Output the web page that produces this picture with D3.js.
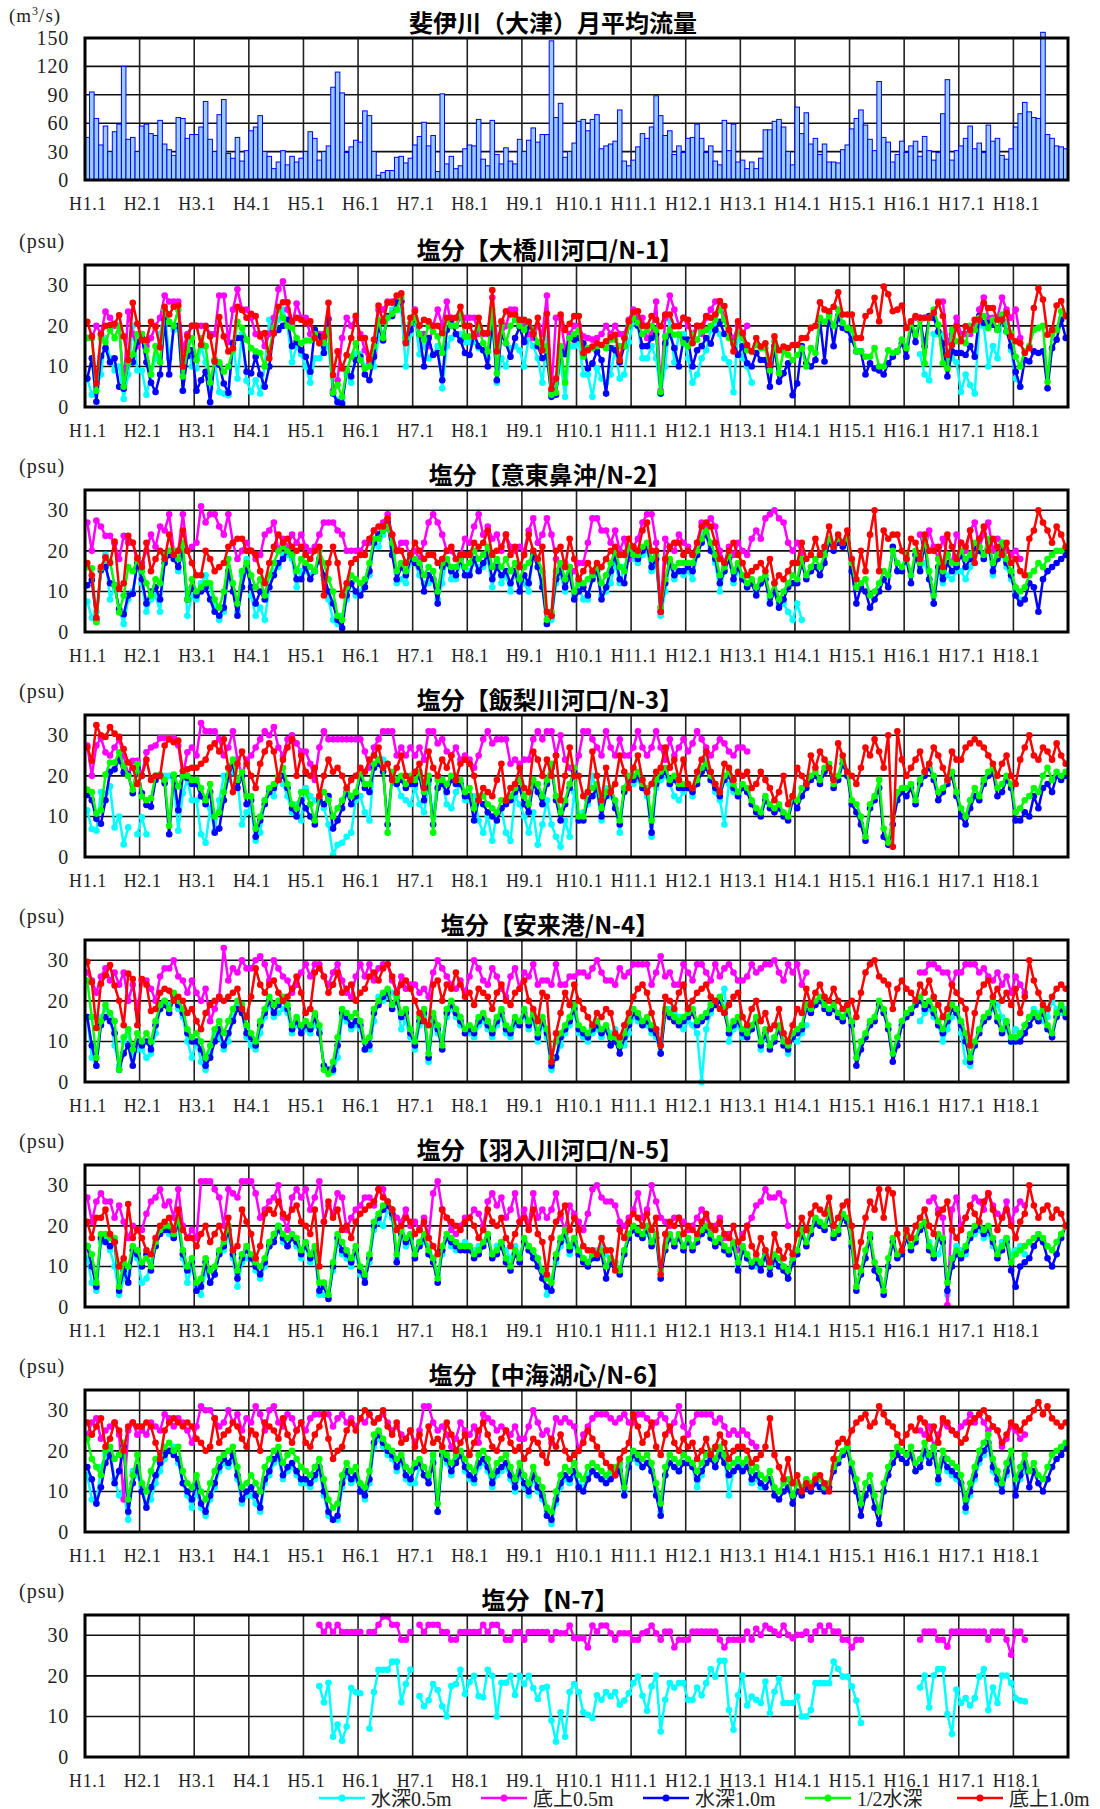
<!DOCTYPE html>
<html>
<head>
<meta charset="utf-8">
<script src="https://cdn.jsdelivr.net/npm/d3@7"></script>
<style>
  body { margin: 0; background: #fff; }
  svg { display: block; }
</style>
</head>
<body>
<svg id="chart" width="1100" height="1809"></svg>
<script>
// ---- data -----------------------------------------------------------------
// Monthly values, January H1 (1989) through December H18 (2006), 12 per row.
const _ = null;

const yearLabels = ["H1.1","H2.1","H3.1","H4.1","H5.1","H6.1","H7.1","H8.1","H9.1",
                    "H10.1","H11.1","H12.1","H13.1","H14.1","H15.1","H16.1","H17.1","H18.1"];
const flowTicks = [0, 30, 60, 90, 120, 150];
const salinityTicks = [0, 10, 20, 30];

const seriesNames  = ["水深0.5m", "底上0.5m", "水深1.0m", "1/2水深", "底上1.0m"];
const seriesColors = ["#00ffff", "#ff00ff", "#0000ff", "#00ff00", "#ff0000"];

// 斐伊川（大津）月平均流量 (m3/s)
const flow = [
  45,93,65,37,57,30,51,59,120,43,45,30,
  57,59,49,47,63,38,32,26,66,65,44,48,
  48,56,83,43,30,69,85,28,23,45,20,31,
  52,56,68,30,25,12,19,31,16,25,19,23,
  30,51,44,21,30,36,98,114,92,29,35,42,
  40,73,68,30,5,8,10,10,24,25,18,23,
  37,46,61,36,47,9,91,17,25,12,15,33,
  37,36,64,22,15,63,27,17,34,20,17,43,
  30,42,55,40,48,48,147,66,81,24,30,39,
  62,64,52,64,69,33,36,38,41,74,20,15,
  21,35,49,44,56,89,68,47,52,27,36,29,
  44,45,59,44,29,36,20,16,63,31,59,19,
  21,12,19,12,23,53,53,62,64,56,30,16,
  77,49,71,38,44,27,38,19,19,18,32,37,
  54,65,74,58,43,31,104,45,40,19,27,41,
  29,36,41,25,46,31,21,29,70,106,21,31,
  36,44,57,33,39,29,58,41,44,26,22,33,
  56,70,82,72,66,65,156,48,44,36,35,33
];

// N-1 大橋川河口
const n1Surface = [
  7,3,5,8,17,12,9,10,2,8,20,9,
  9,3,8,12,18,24,12,19,20,4,18,10,
  9.5,15,11,4.6,11,3.7,3.3,2.9,16,7,18,6.5,
  3.7,6.6,3.3,10,21.5,18,21.5,24,20,11,15,13,
  10,6,12,12,14.5,15,3.7,1.7,1.7,8,6,13,
  13,10,11,10,17,18,22,24,24,24,10,18,
  21.5,13,15,12,13,15,4.6,15,17,18,18,16,
  16,16,14.5,14,12,22,6,12,10,14.5,15,14,
  10,17,15,12,6,17,3,6,11,2.5,15,15,
  16,8,8,2.5,9.5,7,6,8,14.5,7,8,16,
  21,20,12,12,15,12,3.3,10,21.5,11,18,18,
  12,6,8,12,14,19,20,18,12,11,3.7,19,
  12,10,6,_,_,_,_,_,_,_,_,_,
  _,_,_,_,_,_,_,_,_,_,_,_,
  _,_,_,_,_,_,_,_,_,_,_,_,
  _,_,_,13,8,6.6,18,18,18,10,12,11,
  3.7,8,5.4,3.3,20,20,10,15,12,22,21,14,
  7,5,_,_,_,_,_,_,_,_,_,_
];
const n1Bottom05 = [
  17,17,20,18,23.5,22,20,20,5,23.5,18,15,
  18,15,17,20,22,27.5,26,26,26,14,18,20,
  20,20,20,18,18,27.5,27.5,16,24,29,24,24,
  22,18,18,15,18,22,29,31,24,20,25.5,22,
  22,18,18,18,18,18,4,6.6,17,22,20,22,
  18,14,11,13,24,24,26,26,26,26,17,20,
  24,18,18,15,20,24,20,26,20,20,22,22,
  22,22,18,18,18,27,17,18,20,24,24,20,
  20,18,17,20,18,27.5,4,22,22,14,18,20,
  20,17.4,17,16.6,17,18,20,18,20,18,18,21.5,
  24,22,22,17,18,26,4,22,27.5,24,20,22,
  20,18,20,18,22,24,26,26,22,18,17,20,
  18,20,_,_,_,_,_,_,_,_,_,_,
  _,_,_,_,_,_,_,_,_,_,_,_,
  _,_,_,_,_,_,_,_,_,_,_,_,
  _,_,22,22,22,22,22,26,26,16,18,22,
  18,18,18,20,24,27,22,22,22,27,24,22,
  24,17,_,_,_,_,_,_,_,_,_,_
];
const n1Surface10 = [
  7,12,1.3,12.5,14.5,11,12,5,4.5,11,11,16,
  17,11,6,3.7,8,21.5,8,20,20,4,12.5,14,
  4,6.6,8.7,1.2,11.6,10.4,5.8,3.5,15.7,17,17,8.7,
  8.3,12.4,8,5,10,18.6,19,20,21.5,15,16,14,
  12.4,8.7,19,17.4,13.3,21.7,3.3,1.2,0.8,9,7.5,11.6,
  12.4,8,6.6,12.4,20,16.4,22.4,22.4,25.7,26,16,19,
  22,18,10,17,12.8,13.3,6.6,19,21.5,18,16.4,13.3,
  12.8,18,15,14,10,21.5,6.6,17.8,15.7,12.4,17,19.7,
  16,20,18,15,12,12.5,2.5,3,13.7,13,17,16.6,
  17,15.7,9.5,10.8,13.7,11.6,3.3,14.5,14,11,15,20,
  22,20,15,15,17,18,3.3,15.7,18,14.5,10,16.6,
  16.6,10,14,15,17,15.6,19,21,18,17.8,15.7,12.8,
  15,10.8,10,13.3,11.6,11.6,5,15,6.2,8.3,10.8,2.9,
  5.8,15,10.8,10,11.6,21.5,11.2,23,15,22.4,19.5,19,
  16.6,13.7,13.7,8,10.8,9.5,9,8,10.8,12.4,13.7,15.7,
  12.4,20,16,21.5,15,22.4,22,18.6,15.7,7.5,13.7,13.3,
  13.3,12.8,15,12.4,22.4,20.7,20.7,20.3,19,21.5,18.6,15,
  8.7,5,11.6,11.2,13.7,13.3,13.7,4.6,14.5,16.6,21.5,17
];
const n1Half = [
  17,17,4,17,16,19,17,20,5,11,13,18,
  18,14,8,15,11,24,21,20,24,7.5,14,17,
  11.6,17,15,6,11.6,11,8.7,10,14,21,19.5,16.6,
  14.5,13.7,13.3,10,14,19.5,24.4,22,20,19.5,17,15.7,
  16.4,16.4,18,15.7,15.7,19,3.5,5.4,2.5,9,12.4,15.7,
  11.6,9.5,10,15,21.5,17,22,23,24,27,17,20.7,
  22,18,16.6,20,18.6,17.4,13.3,21.5,20,20,23,17.4,
  17.4,17.4,20,15.7,13.7,24,8.3,20,15.7,20,21.5,20,
  19,21,19,16,14,15,3,3.5,15,6,17,18,
  19,12.4,14.5,14.5,15,15.3,14.5,16.6,16.6,15,15,20,
  22,20.7,18,19,20,19,3.7,17.4,19,17.8,17.8,15.7,
  15,17.8,16.6,18.6,19,20,21.5,24,21.5,17,15.7,18.2,
  17,14,13.7,15.3,14.5,14.5,9,16.2,8.3,13.7,12.8,11.6,
  12.8,14.5,10,14.5,13.3,22,21,22.4,20,24,20.7,19.5,
  19,13.7,13.7,12.4,12.4,14.5,10,10,14,13.3,13.7,16.6,
  14.5,21,17.8,21.5,10.8,22,24,20.3,10.8,9.5,19,16.2,
  17,15.7,20,19,22,22.4,19.5,21.5,19,22.8,18.6,18.2,
  12.4,10,13.7,15,19,19.5,20,6.2,18,19,23.6,22.4
];
const n1Bottom10 = [
  21,17.4,5.8,18,20,20.2,20.5,22.6,17.4,11.6,25.7,20.5,
  16.5,16.5,21,19.7,14.7,24.7,22.8,24.7,25,10,17.4,20,
  20,15.3,19.9,17.4,11.2,22.2,17.4,13.7,14.5,24.7,23.9,22,
  23,22.4,17.4,18.2,12,18.2,24.7,25.8,25.8,21.1,22,21.5,
  20.7,21.1,17,15.7,17.4,25.7,7.9,13.7,9.5,12.8,17,22.5,
  17,17,11.8,16.6,25,21.1,25.7,25.7,27.5,28,15.7,22,
  23.6,20,21.5,21.1,20,20,18.2,22,22,22,24.7,20,
  20,17.4,22,18.2,18.2,28.8,13.7,21.1,23.6,22.8,22.8,21.5,
  21.5,21,18,22,14,23,4.5,7,22.8,19,20.5,22.4,
  22.4,13.3,14,14.9,15.7,15.3,16.2,17.2,17.8,11.6,17,21.1,
  23.4,23.6,20,20,22.4,21.5,19.9,22.8,22.8,19.9,19.9,22,
  21.5,15.7,20,20,22.4,22,22.8,26.1,24.9,19,13.7,21.1,
  18.2,15.3,13.7,17,14.9,15.7,10.4,17.4,14,14.9,14.5,15.3,
  15.3,17,17,19.5,20,25.8,24,23.6,24.7,28.3,22.8,22.8,
  22.8,17,17,22.4,23.6,26.9,21.1,29.7,27.8,23.6,24,25,
  19.5,21.1,22.4,22,22,22,23.2,25.7,22.4,12.8,15.3,19.9,
  16.2,19.9,19,21.5,21.5,25.7,24.4,24.4,21.5,21.5,23.2,17.4,
  16.2,15.7,13.3,14.5,24.4,29.2,26.5,17.8,19,25,26.1,22.4
];

// N-2 意東鼻沖
const n2Surface = [
  7.5,3.5,5,15,19,8,11.5,5.5,2,8,10,16.6,
  12,5,8,9,5,18,20,19,15,21,4,9,
  8,12,14,11,6,3,5,14,12,5,14,18,
  9,4,6,3,11,15,16,19,19,18,11,15,
  15,14,15,18,13,8,3,2,4,8,12,9,
  10,12,14,22,21,24,26,21,12,13,12,17,
  17,14,12,12,13,8,12,18,13,13,17,14,
  15,17,16,16,18,11,17,12,14,10,15,12,
  12,10,20,16,12,2,3,12,14,10,15,9,
  11,8,8,14,15,9,10,12,17,12,16,19,
  18,17,19,20,15,17,4,10,17,13,15,14,
  15,13,19,24,26,21,17,10,15,19,12,15,
  14,11,12,10,12,13,8,12,7,7,5,3,
  7,3,_,_,_,_,_,_,_,_,_,_,
  _,_,_,_,_,_,_,_,_,_,_,_,
  _,_,_,16,17,13,7,15,12,14,13,15,
  15,13,16,19,21,18,21,14,18,19,16,13,
  10,8,_,_,_,_,_,_,_,_,_,_
];
const n2Bottom05 = [
  27,20,27.5,26,23.7,23.7,21.8,18,23.7,22,22,17,
  17,20,24,21,26,25,29,20,20,29,20,21,
  22,31,27,29,29,26,24,29,22,18,20,22,
  20,18,19,24,25,27,20,23,21,24,22,24,
  21,20,21,24,27,27,27,25,24,20,20,20,
  20,22,22,25,24,27,29,24,20,22,22,18,
  20,18,22,27,29,27,24,20,20,18,19,23,
  22,26,29,24,26,23,24,20,24,21,20,21,
  20,25,28,22,24,28,24,18,16,17,16,15,
  17,17,22,28,28,25,25,22,25,20,23,18,
  21,23,27,29,29,22,6,23,21,20,24,22,
  21,19,22,27,26,28,26,20,17,21,19,22,
  20,19,23,25,23,28,29,30,28,27,22,20,
  22,19.5,_,_,_,_,_,_,_,_,_,_,
  _,_,_,_,_,_,_,_,_,_,_,_,
  _,_,_,24,20,25,21,18,23,19,17,24,
  22,20,25,27,21,24,27,20,23,22,20,19,
  20,18,_,_,_,_,_,_,_,_,_,_
];
const n2Surface10 = [
  11.5,12.8,3,15.3,16,12,11.5,5.6,4.4,9,9.4,17,
  13,7,10,11,8,17,19,18,16,20,8,11,
  9,10,11,8,5,4,6,15,10,4,11,16,
  11,7,10,8,11,14,17,18,20,19,13,13,
  16,13,15,18,14,10,7,3,1,9,12,10,
  9,11,15,22,24,25,27,19,13,16,14,18,
  17,16,10,14,13,7,16,17,15,14,18,14,
  14,18,15,17,19,13,16,14,15,12,15,10,
  14,12,19,16,11,2,4,13,15,11,14,8,
  10,11,9,13,15,8,11,15,19,13,12,19,
  19,18,20,21,16,18,5,12,17,14,15,15,
  16,15,19,22,24,20,18,12,15,18,13,16,
  13,11,12,9,12,13,7,10,6,8,11,12,
  12,17,13,15,16,14,17,22,20,22,21,22,
  15,7,11,10,6,8,10,13,11,21,15,15,
  18,12,19,15,22,13,7,16,13,17,15,16,
  19,16,18,21,20,18,22,15,18,21,17,14,
  9,7,8,12,11,5,13,15,16,17,18,19
];
const n2Half = [
  16,15.7,2.4,15.7,18.2,17.4,11.5,4.8,9,16,15,17.8,
  15,12,9,13,12,19,20,20,18,22,8,13,
  10,11,12,12,8,6,10,18,12,7,15,17,
  14,11,13,9,14,17,20,21,20,19,15,18,
  17,16,15,20,17,13,10,4,3,11,14,13,
  12,13,17,23,23,25,26,22,15,17,15,19,
  18,17,14,16,15,10,17,18,16,16,18,16,
  17,20,18,19,21,16,18,16,18,15,17,13,
  16,17,20,18,15,3,5,15,17,13,16,10,
  12,12,13,14,16,12,14,17,20,16,15,21,
  19,19,21,22,18,19,6,13,18,16,17,17,
  17,17,20,23,25,22,19,14,16,19,15,17,
  14,12,13,11,13,14,9,12,8,10,12,14,
  13,18,14,16,18,16,19,23,21,23,22,23,
  17,11,12,13,9,10,12,15,14,20,17,16,
  19,14,20,17,23,15,9,18,15,19,17,17,
  20,18,19,22,21,19,23,17,19,22,18,15,
  11,10,11,14,15,17,16,18,19,20,20,21
];
const n2Bottom10 = [
  17,14,3.5,16,18.4,17,22.3,10.7,12,23.7,22,18.2,
  16,22,15,18,20,18,24,19,20,25,20,17,
  14,14,20,18,15,16,17,21,22,23,23,20,
  20,19,15,12,17,21,24,22,23,21,20,21,
  19,18,20,21,9,17,21,17,9,12,17,18,
  19,19,23,25,26,26,28,24,20,20,17,19,
  22,20,18,19,19,17,18,20,21,18,19,19,
  19,22,21,22,25,19,20,21,24,19,21,16,
  19,24,20,18,21,5,4,20,21,16,23,18,
  13,15,17,15,17,16,18,20,21,19,19,23,
  21,20,25,27,20,20,5,18,21,22,22,19,
  20,19,22,26,27,26,22,18,17,20,22,19,
  17,14,15,16,17,15,18,12,14,13,15,17,
  17,22,18,19,23,19,21,26,21,24,22,25,
  18,13,20,15,24,30,15,25,23,24,24,20,
  18,23,22,18,24,20,20,21,16,24,21,18,
  22,21,25,17,23,26,20,23,21,19,22,17,
  18,15,14,23,25,30,27,25,22,26,24,21
];

// N-3 飯梨川河口
const n3Surface = [
  11.5,6.9,6.5,16,15.7,17.4,7.3,10,3.1,7.3,_,5.6,
  9.8,5.6,_,_,20,20,20,18.7,6.5,15.7,19.1,14,
  14,5.6,3.5,12,6.5,14,20,19,21,19,8,11,
  12,4,6,14,16,15,19,18,15,11,13,9,
  17,15,14,14,12,8,0.5,3,3.5,5,6,14,
  15,11,9,22,24,24,23,20,18,15,14,13,
  17,13,11,18,10,20,19,13,12,16,18,14,
  14,15,9,6,10,4,11,12,6,4,15,13,
  10,6,11,3,8,14,8,5,2.5,9,5,16,
  9,11,13,20,16,9,17,15,13,6,17,19,
  18,19,17,15,5,17,19,20,18,15,14,16,
  17,15,19,21,25,19,16,14,8,18,16,15,
  _,_,_,_,_,_,_,_,_,_,_,_,
  _,_,_,_,_,_,_,_,_,_,_,_,
  _,_,_,_,_,_,_,_,_,_,_,_,
  _,_,_,_,_,_,_,_,_,_,_,_,
  _,_,_,_,_,_,_,_,_,_,_,_,
  _,_,_,_,_,_,_,_,_,_,_,_
];
const n3Bottom05 = [
  27.5,20,27.5,29.3,25.8,25,27,29,25,20,23.7,23.7,
  20,25.8,27,27.5,29.3,29.3,29.3,29.3,27.5,20,25.8,27,
  25,33,31,31,31,29,25,27,31,24,20,24,
  25,27,29,31,30,32,27,25,29,30,28,26,
  26,23,19,27,31,29,29,29,29,29,29,29,
  29,26,22,27,29,31,31,31,25,27,25,27,
  25,27,24,31,31,28,29,26,25,27,24,25,
  24,22,25,29,31,28,29,29,29,23,24,23,
  24,24,29,31,29,31,31,25,30,24,22,20,
  25,31,31,29,27,25,31,27,25,29,25,25,
  27,31,27,25,27,31,27,24,29,25,27,29,
  26,28,31,29,27,25,27,29,28,26,25,27,
  27,26,_,_,_,_,_,_,_,_,_,_,
  _,_,_,_,_,_,_,_,_,_,_,_,
  _,_,_,_,_,_,_,_,_,_,_,_,
  _,_,_,_,_,_,_,_,_,_,_,_,
  _,_,_,_,_,_,_,_,_,_,_,_,
  _,_,_,_,_,_,_,_,_,_,_,_
];
const n3Surface10 = [
  15.3,14,9.4,8.2,14,21,21.6,24,20.8,20.3,15.7,22,
  15.7,12.8,12.4,19,20,18.2,5.6,20,11.5,20,19.5,18,
  18,15,13,16,6,7,14,20,23,17,20,13,
  14,5,9,13,16,17,19,20,17,12,10,14,
  12,10,8,14,13,15,7,9,12,16,13,15,
  20,17,16,22,23,21,8,20,18,19,17,18,
  18,20,14,19,8,17,18,16,19,18,18,15,
  15,9,14,13,11,10,9,12,13,14,16,17,
  13,11,18,16,13,18,22,14,9,13,17,21,
  9,9,14,15,17,10,15,16,12,8,16,19,
  19,20,17,16,6,18,20,21,18,19,17,17,
  17,16,18,21,22,19,17,15,19,20,17,15,
  17,16,13,11,10,14,12,11,12,10,9,14,
  12,15,17,19,20,18,21,22,17,19,23,20,
  13,11,8,4,12,14,17,5,3,8,14,16,
  15,17,13,18,20,22,19,14,16,18,20,15,
  10,8,12,15,14,18,20,21,15,16,19,17,
  9,9,11,10,15,12,17,18,16,20,19,20
];
const n3Half = [
  16.6,16,10.7,11.5,20.3,23.3,23.3,25.8,22.4,20,16.6,22.9,
  14.9,14,14.5,20,20.3,19,7.7,20.3,17.4,20,20,19,
  19,17,14,18,10,11,16,22,24,19,21,15,
  15,7,10,14,17,18,20,22,18,13,12,16,
  16,13,9,15,16,14,10,12,14,17,15,16,
  21,18,18,23,24,22,6,21,19,20,18,20,
  19,21,16,20,6,19,19,18,20,19,19,16,
  17,12,15,15,13,12,11,14,14,15,17,19,
  15,13,19,18,15,19,23,15,11,14,18,22,
  10,10,16,17,18,12,16,17,14,9,17,20,
  20,21,18,17,9,19,21,22,19,20,18,18,
  18,17,19,22,23,20,18,16,20,21,18,16,
  18,17,14,12,11,15,13,12,13,11,10,15,
  14,17,18,20,21,19,22,23,18,20,24,21,
  14,13,10,5,13,15,19,7,3.5,10,16,17,
  17,18,14,19,21,23,20,16,17,19,21,16,
  12,10,14,17,15,19,21,22,17,18,20,18,
  11,12,14,15,17,16,20,22,19,21,20,21
];
const n3Bottom10 = [
  27,23.7,32.5,30,29.6,32,30.4,29.6,26.6,23.3,22,18,
  20,24,19,20,20,27.5,29,28.3,28.7,21.2,21.6,22,
  22,23,24,27,28,26,29,22,16,23,26,23,
  20,17,23,26,28,26,19,24,27,29,20,25,
  21,20,22,15,20,24,21,22,20,17,19,20,
  22,21,24,25,27,22,23,19,22,25,20,19,
  21,23,17,26,22,20,24,22,25,19,23,24,
  23,20,14,17,16,15,19,23,14,17,18,22,
  17,16,26,24,20,24,20,25,14,20,27,20,
  20,15,16,26,20,14,22,16,18,25,21,17,
  22,25,19,16,18,21,22,27,22,24,19,24,
  18,17,21,24,26,21,18,16,23,22,19,21,
  20,21,17,18,21,19,17,14,16,20,13,15,
  22,20,18,25,22,26,24,22,19,28,25,21,
  20,18,22,27,25,29,26,22,30,2.5,31,24,
  20,22,24,26,21,23,27,25,22,19,26,24,
  24,27,28,29,28,27,25,23,20,23,25,20,
  18,24,27,30,25,24,27,26,24,28,25,23
];

// N-4 安来港
const n4Surface = [
  16,6,4,16,18,17,9,4,10,12,6,8,
  8,6,7,12,18,20,19,21,18,16,10,6,
  10,5,3,7,12,11,8,10,16,19,17,11,
  9,8,12,16,19,16,17,18,17,12,14,13,
  13,12,14,13,4,3,2.5,6,16,15,13,14,
  13,8,8,15,21,20,21,22,20,13,15,11,
  8,14,16,5,15,12,11,16,18,16,14,13,
  12,11,14,15,13,11,14,16,12,11,14,15,
  16,13,15,10,14,11,3,6,9,12,14,17,
  12,11,10,12,13,11,13,12,13,10,9,12,
  16,15,14,14,12,11,7,17,18,17,16,13,
  15,14,12,0,13,17,19,20,23,10,13,14,
  11,13,14,15,8,11,9,11,13,10,7,11,
  10,12,14,_,_,_,_,_,_,_,_,_,
  _,_,_,_,_,_,_,_,_,_,_,_,
  _,_,_,15,17,18,16,14,10,13,16,17,
  12,5,4,9,13,15,16,18,19,16,13,10,
  13,11,14,16,18,17,15,16,20,18,17,18
];
const n4Bottom05 = [
  27,25,22,26,28,25,27,24,27,20,24,18,
  25,25,23,20,26,28,28,30,26,25,22,25,
  22,20,23,15,18,21,33,25,28,27,30,28,
  28,30,31,29,25,30,28,26,25,22,24,27,
  29,26,29,29,26,24,27,29,25,22,21,26,
  29,26,29,25,28,29,29,25,22,26,23,24,
  24,22,23,21,27,30,28,26,24,23,25,22,
  26,30,28,25,24,28,26,23,21,26,28,23,
  27,26,29,24,25,25,24,29,24,24,26,26,
  27,27,26,28,30,27,25,25,24,28,26,27,
  29,29,29,29,24,27,31,26,27,24,24,29,
  27,25,29,29,27,25,29,26,28,29,27,25,
  25,26,29,27,28,29,29,30,27,25,29,27,
  29,24,27,_,_,_,_,_,_,_,_,_,
  _,_,_,_,_,_,_,_,_,_,_,_,
  _,_,_,27,27,29,29,28,27,27,24,27,
  27,29,29,29,27,28,26,25,27,24,26,22,
  26,24,22,_,_,_,_,_,_,_,_,_
];
const n4Surface10 = [
  16,9,4,14,16,15,12,3,7,9,4,10,
  9,10,8,14,18,19,17,21,19,17,12,10,
  10,8,4,6,10,13,9,12,15,18,17,12,
  11,9,14,17,20,17,19,20,18,13,15,12,
  14,13,16,12,4,3,3,9,17,16,14,15,
  14,8,9,17,19,21,22,18,20,16,17,12,
  9,15,17,6,16,13,8,17,19,17,15,12,
  13,12,15,16,14,12,15,17,13,12,15,14,
  17,14,16,11,15,12,4,6,11,13,15,18,
  13,12,11,13,14,12,13,9,10,7,11,14,
  17,16,14,15,13,12,7,17,16,15,14,15,
  16,17,14,15,16,18,19,20,17,12,14,15,
  12,11,13,15,9,12,8,10,13,9,8,11,
  12,13,18,17,19,20,18,17,18,16,15,17,
  14,4,8,11,14,15,19,17,13,5,9,14,
  16,17,19,20,18,19,17,14,12,15,18,17,
  14,10,5,9,12,15,16,19,15,12,14,10,
  10,10,12,14,16,15,17,13,11,16,18,16
];
const n4Half = [
  25,16,6,15,19,17,15,3,11,13,8,12,
  10,12,10,15,19,20,18,22,20,18,13,11,
  12,10,6,9,13,15,12,15,18,20,19,14,
  12,10,15,18,21,19,20,21,19,14,16,14,
  15,14,17,14,3,2,5,11,18,17,16,17,
  15,10,11,18,20,22,23,19,21,17,18,13,
  10,16,18,7,17,14,9,18,20,18,16,13,
  14,13,16,17,15,13,16,18,14,13,16,15,
  18,15,17,12,16,13,6,10,12,14,16,19,
  14,13,12,14,15,13,14,11,11,9,12,15,
  18,17,15,16,14,13,9,18,17,16,15,16,
  17,18,15,16,17,19,20,21,18,13,15,16,
  13,12,14,16,10,13,9,11,14,10,9,12,
  13,14,19,18,20,21,19,18,19,17,16,18,
  15,6,10,12,15,16,20,18,14,7,11,15,
  17,18,20,21,19,20,18,15,13,16,19,18,
  15,12,6,10,13,16,17,20,16,13,15,11,
  11,12,14,16,17,16,18,14,12,17,19,17
];
const n4Bottom10 = [
  29.6,24.6,13.3,24.2,26.3,28.8,23.8,20,14,26.7,25.4,14,
  25.4,24,17.5,18,22,23,22.5,20,21,20,17,18,
  15,13,17,19,20,21,20,21,22,23,18,16,
  21,28,24,22,24,25,22,20,21,23,26,22,
  17,18,27,28,26,22,24,27,22,23,24,20,
  22,23,26,27,25,28,29,26,22,24,25,23,
  20,17,15,14,24,25,20,24,23,27,24,21,
  22,19,23,22,21,18,22,24,20,19,22,23,
  25,20,18,15,22,21,5,12,17,22,19,24,
  20,18,16,14,17,16,18,17,12,11,14,17,
  21,23,24,22,17,13,9,21,20,18,22,24,
  18,20,22,23,24,21,20,18,17,19,21,22,
  16,14,18,20,15,17,13,14,18,12,10,14,
  18,17,23,19,22,24,21,20,23,20,18,19,
  20,16,22,27,29,30,26,25,24,18,23,25,
  23,22,20,24,22,25,21,19,16,18,24,22,
  20,18,9,17,22,24,25,21,23,20,22,19,
  23,17,21,30,25,22,19,18,21,23,24,23
];

// N-5 羽入川河口
const n5Surface = [
  12,6,4,16,17,14,10,3,7,8,13,12,
  6,7,11,15,18,19,18,17,20,12,6,10,
  5,3,9,6,8,13,14,18,12,5,11,12,
  12,9,7,10,15,17,20,16,15,17,15,12,
  15,11,13,3,3,3,9,16,13,12,10,13,
  8,7,11,19,21,20,24,22,12,18,15,16,
  14,16,16,15,12,8,13,17,15,14,15,16,
  15,14,15,16,17,13,15,16,14,12,15,13,
  16,15,13,11,9,3,7,11,15,17,13,15,
  14,12,11,13,14,15,13,12,11,9,14,18,
  19,18,17,18,16,17,10,15,17,16,17,15,
  17,15,17,18,19,17,16,17,14,13,16,10,
  14,12,10,10,11,12,9,11,12,10,7,_,
  _,_,_,_,_,_,_,_,_,_,_,_,
  _,_,_,_,_,_,_,_,_,_,_,_,
  _,_,_,_,_,16,14,13,16,3,12,15,
  14,13,17,18,19,17,18,15,14,16,17,13,
  14,15,13,_,_,_,_,_,_,_,_,_
];
const n5Bottom05 = [
  27,21,26,28,26,26,22,25,21,17,20,19,
  19,23,26,27,29,25,26,22,29,20,17,19,
  17,31,31,31,29,27,20,29,28,27,31,31,
  31,28,22,24,26,27,30,22,19,27,29,27,
  29,24,27,31,21,25,23,28,27,19,22,24,
  25,27,27,25,29,29,25,24,22,21,24,20,
  21,19,22,17,28,31,24,22,19,18,20,22,
  22,24,23,20,26,28,25,27,22,24,28,21,
  24,20,28,22,24,22,24,28,22,19,25,23,
  21,19,23,29,30,27,26,26,25,21,20,22,
  24,28,22,24,30,26,22,21,20,22,22,21,
  19,20,22,24,22,19,20,22,17,18,16,14,
  18,20,22,25,26,29,27,27,28,26,20,_,
  _,_,_,_,_,_,_,_,_,_,_,_,
  _,_,_,_,_,_,_,_,_,_,_,_,
  _,_,_,_,_,26,27,24,22,0.5,24,27,
  20,22,25,27,26,24,28,25,23,22,26,21,
  24,26,25,_,_,_,_,_,_,_,_,_
];
const n5Surface10 = [
  15,10,5,17,16,15,16,4,9,6,14,13,
  10,13,9,15,18,19,19,17,21,13,9,11,
  4,5,11,6,8,13,15,19,13,7,12,14,
  12,10,8,11,15,16,19,17,15,17,16,13,
  15,12,14,4,5,2,10,17,14,13,11,14,
  9,6,12,20,22,24,25,23,11,18,16,17,
  12,15,17,13,11,6,14,17,16,15,14,14,
  14,12,13,15,17,12,13,15,11,9,13,11,
  16,14,12,10,7,5,4,12,16,18,14,16,
  13,11,10,12,12,13,7,11,10,8,13,17,
  19,18,17,19,15,17,7,14,17,15,17,14,
  16,14,16,18,19,17,15,16,14,13,15,9,
  14,12,10,11,9,13,8,12,10,9,7,11,
  13,18,15,18,21,20,19,23,17,18,22,21,
  15,4,8,12,17,9,7,3,10,16,12,13,
  17,14,16,19,20,14,12,17,16,4,10,13,
  12,14,17,19,20,18,19,16,12,14,16,9,
  5,10,11,12,15,17,16,12,10,13,17,20
];
const n5Half = [
  15,13,6,18,18,17,17,5,11,10,15,14,
  11,12,10,16,19,20,20,18,22,14,10,12,
  6,7,12,9,10,14,16,20,14,9,13,15,
  13,11,10,12,16,18,20,18,17,18,17,14,
  16,13,15,6,6,3,11,18,16,14,12,15,
  10,8,13,21,23,25,26,24,13,19,17,18,
  13,16,18,14,12,7,15,18,17,16,15,15,
  15,13,14,16,18,13,14,16,12,10,14,12,
  17,15,14,12,9,7,6,13,17,19,15,17,
  14,12,11,13,13,14,10,12,11,9,14,18,
  20,19,18,20,16,18,9,15,18,16,18,15,
  17,15,17,19,20,18,16,17,15,14,16,11,
  15,13,11,12,11,14,10,13,12,10,9,12,
  14,19,16,19,22,21,20,24,18,19,23,22,
  16,5,9,14,18,11,9,4,12,17,13,14,
  18,15,17,20,21,15,13,18,17,6,12,14,
  13,15,18,20,21,19,20,17,13,15,17,11,
  13,14,15,16,17,18,17,15,14,16,18,20
];
const n5Bottom10 = [
  21,17,22,22,24,18,16,10,12,25.4,17,19,
  17,14,13,17,20,21,22,19,24,19,17,17,
  15,18,20,16,18,20,17,22,14,15,24,21,
  18,12,15,23,24,23,26,23,22,24,25,21,
  20,18,24,10,21,26,22,24,19,20,17,21,
  23,24,25,26,29,27,26,24,19,20,22,21,
  18,19,21,17,15,13,24,22,21,20,19,21,
  22,20,17,19,24,21,20,22,17,15,18,21,
  22,19,24,18,16,8,17,21,23,25,19,22,
  19,15,14,14,13,17,14,14,9,19,17,21,
  23,22,20,23,19,22,8,18,21,20,22,18,
  20,19,18,21,23,20,19,21,18,17,20,16,
  17,20,15,13,17,14,11,18,14,12,15,13,
  18,22,19,23,25,24,23,27,20,22,25,26,
  20,10,16,22,26,24,29,22,29,28,18,14,
  19,17,20,22,24,20,18,23,24,26,19,17,
  19,22,25,23,21,26,28,24,19,22,24,20,
  17,21,23,30,25,22,24,25,22,24,23,20
];

// N-6 中海湖心
const n6Surface = [
  14,8,7,16,19,20,13,9,10,3,15,14,
  11,7,8,12,15,18,20,21,17,12,9,6,
  10,6,4,8,11,15,17,16,18,13,7,9,
  9,7,5,12,14,17,18,13,15,16,14,12,
  12,11,13,15,9,4,3,3,11,14,12,13,
  11,8,12,21,23,21,19,18,15,17,13,12,
  12,16,14,13,18,5,19,17,14,18,19,15,
  13,12,16,17,15,11,14,15,16,13,10,14,
  11,9,13,10,8,5,2,7,11,13,12,14,
  12,11,14,15,14,13,13,14,15,16,10,17,
  18,17,16,17,15,10,5,14,17,16,15,17,
  17,16,11,14,17,19,16,20,18,9,15,17,
  16,17,12,13,11,_,_,_,_,_,_,_,
  _,_,_,_,_,_,_,_,_,_,_,_,
  _,_,_,_,_,_,_,_,_,_,_,_,
  _,_,_,16,19,17,20,12,18,15,14,13,
  12,5,9,13,17,19,21,15,12,11,14,17,
  11,13,15,_,_,_,_,_,_,_,_,_
];
const n6Bottom05 = [
  24,27,28,23,25,26,27,24,8,25,27,24,
  25,24,27,26,25,29,28,26,28,27,25,22,
  26,31,30,30,28,26,27,30,27,29,25,28,
  27,31,29,25,30,31,27,26,29,28,25,27,
  25,28,29,29,29,29,26,28,29,27,28,26,
  28,27,29,27,28,29,27,25,26,24,23,25,
  22,25,31,31,27,25,26,24,21,23,27,25,
  24,26,22,29,28,27,25,26,25,24,26,23,
  23,26,30,27,24,25,22,28,27,28,27,26,
  20,24,26,28,29,29,29,28,27,28,29,27,
  27,29,29,28,26,27,29,28,25,27,31,26,
  24,27,29,29,29,29,27,28,26,24,25,24,
  25,24,22,21,_,_,_,_,_,_,_,_,
  _,_,_,_,_,_,_,_,_,_,_,_,
  _,_,_,_,_,_,_,_,_,_,_,_,
  _,_,_,25,24,26,21,24,27,26,25,24,
  26,27,29,27,29,27,25,26,25,21,23,26,
  25,23,24,_,_,_,_,_,_,_,_,_
];
const n6Surface10 = [
  16,13,7,11,17,19,12,15,21,5,12,16,
  10,6,11,14,17,19,20,19,18,12,10,8,
  12,7,5,9,12,16,18,17,19,14,8,10,
  11,9,6,13,15,18,19,14,16,17,15,13,
  13,12,14,16,10,5,3,4,12,15,13,14,
  10,9,13,22,24,22,20,19,16,18,14,13,
  16,17,14,12,17,5,19,18,15,17,19,16,
  14,13,17,18,16,12,15,16,17,14,11,15,
  12,10,14,11,9,4,3,8,12,14,13,15,
  11,10,13,15,14,13,12,13,14,15,9,16,
  19,18,16,17,15,9,4,14,17,16,15,17,
  17,16,13,15,17,18,16,19,17,14,15,16,
  15,16,13,14,12,11,13,9,8,10,11,7,
  10,9,11,10,12,11,10,11,15,17,19,20,
  15,10,4,9,11,6,2,10,14,17,19,18,
  17,19,15,16,20,17,19,13,18,16,15,14,
  12,6,10,14,18,20,22,16,13,10,15,18,
  9,14,17,11,15,12,10,13,16,18,19,21
];
const n6Half = [
  23,18,16,14,20,21,18,19,22,8,14,19,
  12,10,15,18,19,21,22,20,21,15,12,11,
  14,10,8,12,15,18,19,20,21,16,11,12,
  14,12,10,16,18,20,21,17,19,20,18,16,
  15,14,16,18,13,8,6,7,14,17,15,16,
  12,11,15,24,25,23,21,20,18,19,16,15,
  17,18,16,14,19,7,20,19,17,19,20,18,
  16,15,19,20,18,14,17,18,19,16,13,17,
  14,12,16,13,11,6,5,10,14,16,15,17,
  14,13,16,17,16,15,14,15,16,17,11,18,
  20,19,18,19,17,12,7,16,19,18,17,19,
  18,17,15,17,19,20,18,21,19,16,17,18,
  17,18,15,16,14,13,15,11,10,12,13,9,
  12,11,13,12,14,13,11,12,16,18,20,21,
  17,13,7,12,14,9,5,12,16,19,21,20,
  19,21,17,18,22,19,21,15,20,18,17,16,
  14,8,12,16,20,22,24,18,15,12,17,20,
  13,16,19,15,17,14,13,16,19,20,21,22
];
const n6Bottom10 = [
  27,24,26,28,21,23,27,25,20,26,27,26,
  26,27,26,22,18,25,27,28,27,26,27,26,
  23,22,20,21,28,22,24,25,27,26,23,21,
  25,24,20,27,26,25,23,28,24,22,25,27,
  22,21,24,26,29,23,18,20,21,25,27,25,
  28,30,29,27,28,30,26,24,27,22,23,25,
  21,24,20,26,22,23,21,27,24,20,22,24,
  19,22,25,27,24,21,20,23,25,22,20,21,
  18,20,23,22,19,17,23,21,24,20,18,19,
  20,22,25,23,21,19,17,16,14,18,20,22,
  29,26,22,24,27,21,19,24,26,22,20,23,
  21,22,18,20,23,19,21,24,22,18,20,21,
  21,20,17,18,19,21,28,19,16,13,18,12,
  14,10,12,11,13,14,12,10,18,22,23,22,
  25,27,28,29,26,27,31,29,27,26,24,22,
  24,26,25,28,27,23,26,22,28,27,25,24,
  22,23,27,28,29,30,28,26,25,22,24,27,
  26,25,27,28,30,32,29,31,28,27,26,27
];

// N-7 (surface and near-bottom only)
const n7Surface = [
  _,_,_,_,_,_,_,_,_,_,_,_,
  _,_,_,_,_,_,_,_,_,_,_,_,
  _,_,_,_,_,_,_,_,_,_,_,_,
  _,_,_,_,_,_,_,_,_,_,_,_,
  _,_,_,17.5,13.5,18.3,5,8,4,7.5,17,16,
  15.7,_,7,16,21.5,21.5,21.5,23.5,23.5,13.5,18,21.5,
  _,15,12.5,14,18,16.5,12.5,10,17.5,18,21.5,15.5,
  18.5,20,15,14.7,21.5,20,10,18.3,18.3,20,15.3,20,
  18,20,17,14.3,17,17.3,9,3.8,11,5,16,18,
  16,11,10.4,9.6,15.2,14.1,16,15,16,12.9,13.9,15.7,
  18.2,19.8,15.1,11.4,17.4,20.1,6.3,14.1,18.2,17.1,18.2,18.2,
  14.1,14.1,17.1,15.2,18.2,21.7,19.8,23.7,23.7,11.6,6.7,15.2,
  20.1,12.7,14.9,14.1,13.3,18.6,10.8,16.1,19.3,13.3,13.3,13.3,
  14.9,10,10,11.6,18.2,18.2,18.2,18.2,23.5,21.7,19.8,19.8,
  17.4,13.9,8.4,_,_,_,_,_,_,_,_,_,
  _,_,_,17.1,20.1,12.2,20.1,21.7,21.7,10.6,5.7,16.6,
  13.3,14.5,12.7,14.5,19.8,21.7,11.6,17.1,13.3,20.1,20.1,18.2,
  14.5,13.9,13.7,_,_,_,_,_,_,_,_,_
];
const n7Bottom05 = [
  _,_,_,_,_,_,_,_,_,_,_,_,
  _,_,_,_,_,_,_,_,_,_,_,_,
  _,_,_,_,_,_,_,_,_,_,_,_,
  _,_,_,_,_,_,_,_,_,_,_,_,
  _,_,_,32.6,30.8,32.6,30.8,32.6,30.8,30.8,30.8,30.8,
  30.8,_,30.8,30.8,32.6,34.6,34.6,32.6,32.6,28.9,28.9,30.8,
  _,32.6,30.8,32.6,32.6,32.6,30.8,30.8,28.9,28.9,30.8,30.8,
  30.8,30.8,30.8,32.6,30.8,32.6,32.6,30.8,28.9,28.9,30.8,30.8,
  28.9,30.8,30.8,30.8,30.8,30.8,28.9,30.8,30.5,30.5,32.4,29.3,
  29.3,29.3,27,32.4,30.9,32.4,32.4,30.5,28.9,30.5,30.5,30.5,
  28.9,28.9,30.5,30.9,32.4,30.5,28.9,30.9,30.9,27,28.9,28.9,
  28.9,30.9,30.9,30.9,30.9,30.9,30.9,28.9,27,28.9,28.9,28.9,
  28.9,30.9,28.9,31.6,30.1,32.4,31.6,30.9,30.1,32.4,30.1,29.3,
  30.1,30.1,30.9,28.9,30.9,32.4,30.9,32.4,30.9,30.9,28.9,28.9,
  27,28.9,28.9,_,_,_,_,_,_,_,_,_,
  _,_,_,28.9,30.9,30.9,30.9,28.9,28.9,27.2,30.9,30.9,
  30.9,30.9,30.9,30.9,30.9,30.9,28.9,30.9,30.9,30.9,28.9,25.2,
  30.9,30.9,28.9,_,_,_,_,_,_,_,_,_
];

// Panels: series order follows the legend (水深0.5m, 底上0.5m, 水深1.0m, 1/2水深, 底上1.0m)
const panels = [
  { title: "塩分【大橋川河口/N-1】", series: [n1Surface, n1Bottom05, n1Surface10, n1Half, n1Bottom10] },
  { title: "塩分【意東鼻沖/N-2】",   series: [n2Surface, n2Bottom05, n2Surface10, n2Half, n2Bottom10] },
  { title: "塩分【飯梨川河口/N-3】", series: [n3Surface, n3Bottom05, n3Surface10, n3Half, n3Bottom10] },
  { title: "塩分【安来港/N-4】",     series: [n4Surface, n4Bottom05, n4Surface10, n4Half, n4Bottom10] },
  { title: "塩分【羽入川河口/N-5】", series: [n5Surface, n5Bottom05, n5Surface10, n5Half, n5Bottom10] },
  { title: "塩分【中海湖心/N-6】",   series: [n6Surface, n6Bottom05, n6Surface10, n6Half, n6Bottom10] },
  { title: "塩分【N-7】",            series: [n7Surface, n7Bottom05, null, null, null] }
];

// ---- layout ---------------------------------------------------------------
const svg = d3.select("#chart");
const plotLeft = 85, plotRight = 1068;
const nMonths = yearLabels.length * 12;
const latinFont = "'Liberation Serif', 'Noto Sans CJK JP', serif";
const titleFont = "'Noto Sans CJK JP', sans-serif";

const x = d3.scaleBand().domain(d3.range(nMonths)).range([plotLeft, plotRight]).padding(0);
const bw = x.bandwidth();
const cx = i => x(i) + bw / 2;

svg.append("rect").attr("width", 1100).attr("height", 1809).attr("fill", "#fff");

function drawGrid(g, y, ticks, top, bottom) {
  // horizontal grid at every tick except the axis line
  g.selectAll(null).data(ticks.filter(t => t > 0))
    .join("line")
    .attr("x1", plotLeft).attr("x2", plotRight)
    .attr("y1", d => y(d)).attr("y2", d => y(d))
    .attr("stroke", "#111").attr("stroke-width", 1.6);
  // a vertical line at the start of each year
  g.selectAll(null).data(d3.range(1, yearLabels.length))
    .join("line")
    .attr("x1", k => x(k * 12)).attr("x2", k => x(k * 12))
    .attr("y1", top).attr("y2", bottom)
    .attr("stroke", "#222").attr("stroke-width", 1.6);
}

function drawFrame(g, y, ticks, top, bottom) {
  g.append("rect")
    .attr("x", plotLeft).attr("y", top)
    .attr("width", plotRight - plotLeft).attr("height", bottom - top)
    .attr("fill", "none").attr("stroke", "#000").attr("stroke-width", 3);

  const yAxis = g.append("g")
    .attr("transform", `translate(${plotLeft},0)`)
    .call(d3.axisLeft(y).tickValues(ticks).tickSize(0).tickPadding(16));
  yAxis.select(".domain").remove();
  yAxis.selectAll("text")
    .attr("font-family", latinFont).attr("font-size", 20)
    .attr("letter-spacing", 0.8).attr("fill", "#222");

  g.selectAll(null).data(yearLabels)
    .join("text")
    .attr("x", (d, k) => x(k * 12) + 3)
    .attr("y", bottom + 30)
    .attr("text-anchor", "middle")
    .attr("font-family", latinFont).attr("font-size", 18)
    .attr("letter-spacing", 0.6).attr("fill", "#222")
    .text(d => d);
}

// ---- flow panel -----------------------------------------------------------
{
  const top = 38, bottom = 180;
  const y = d3.scaleLinear().domain([0, 150]).range([bottom, top]);
  const g = svg.append("g");

  drawGrid(g, y, flowTicks, top, bottom);

  g.selectAll(null).data(flow)
    .join("rect")
    .attr("x", (d, i) => x(i))
    .attr("width", bw)
    .attr("y", d => y(d))
    .attr("height", d => bottom - y(d))
    .attr("fill", "#99ccff")
    .attr("stroke", "#0000ff")
    .attr("stroke-width", 1);

  drawFrame(g, y, flowTicks, top, bottom);

  g.append("text")
    .attr("x", 553).attr("y", 32)
    .attr("text-anchor", "middle")
    .attr("font-family", titleFont).attr("font-weight", 700).attr("font-size", 24)
    .text("斐伊川（大津）月平均流量");

  const unit = g.append("text")
    .attr("x", 9).attr("y", 22)
    .attr("font-family", latinFont).attr("font-size", 19)
    .attr("letter-spacing", 1).attr("fill", "#222");
  unit.append("tspan").text("(m");
  unit.append("tspan").attr("dy", -7).attr("font-size", 12).text("3");
  unit.append("tspan").attr("dy", 7).text("/s)");
}

// ---- salinity panels ------------------------------------------------------
const panelTop0 = 265, panelStep = 225, panelHeight = 142;

panels.forEach((p, pi) => {
  const top = panelTop0 + pi * panelStep;
  const bottom = top + panelHeight;
  const y = d3.scaleLinear().domain([0, 35]).range([bottom, top]);
  const g = svg.append("g");

  drawGrid(g, y, salinityTicks, top, bottom);

  const line = d3.line()
    .defined(d => d != null)
    .x((d, i) => cx(i))
    .y(d => y(d));

  p.series.forEach((values, si) => {
    if (!values) return;
    const color = seriesColors[si];
    g.append("path")
      .datum(values)
      .attr("d", line)
      .attr("fill", "none")
      .attr("stroke", color)
      .attr("stroke-width", 2.5)
      .attr("stroke-linejoin", "round");
    g.selectAll(null)
      .data(values.map((v, i) => [i, v]).filter(d => d[1] != null))
      .join("circle")
      .attr("cx", d => cx(d[0]))
      .attr("cy", d => y(d[1]))
      .attr("r", 3.3)
      .attr("fill", color);
  });

  drawFrame(g, y, salinityTicks, top, bottom);

  g.append("text")
    .attr("x", 550).attr("y", top - 6)
    .attr("text-anchor", "middle")
    .attr("font-family", titleFont).attr("font-weight", 700).attr("font-size", 24)
    .text(p.title);

  g.append("text")
    .attr("x", 19).attr("y", top - 17)
    .attr("font-family", latinFont).attr("font-size", 20)
    .attr("letter-spacing", 1).attr("fill", "#222")
    .text("(psu)");
});

// ---- legend ---------------------------------------------------------------
{
  const legendX = [319, 481, 643, 805, 957];
  const ly = 1798;
  const lg = svg.append("g");
  seriesNames.forEach((name, si) => {
    const x0 = legendX[si];
    lg.append("line")
      .attr("x1", x0).attr("x2", x0 + 46)
      .attr("y1", ly).attr("y2", ly)
      .attr("stroke", seriesColors[si]).attr("stroke-width", 2.5);
    lg.append("circle")
      .attr("cx", x0 + 23).attr("cy", ly).attr("r", 3.5)
      .attr("fill", seriesColors[si]);
    lg.append("text")
      .attr("x", x0 + 52).attr("y", ly + 8)
      .attr("font-family", latinFont).attr("font-size", 20).attr("fill", "#222")
      .text(name);
  });
}
</script>
</body>
</html>
